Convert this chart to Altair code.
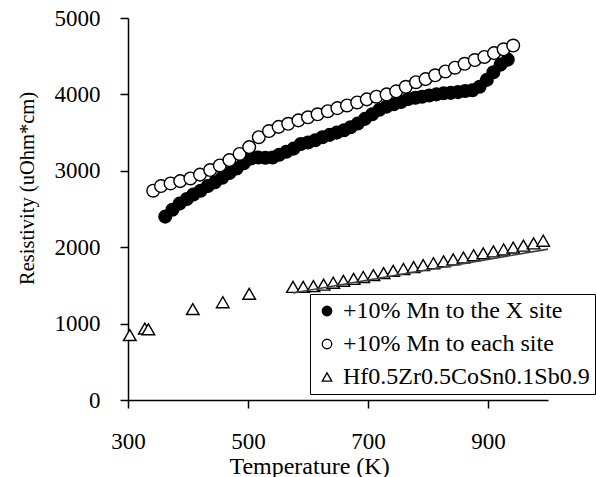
import altair as alt
import pandas as pd

# +10% Mn to the X site (filled circles)
T_x = [362, 374, 386, 398, 409, 421, 433, 445, 457, 469, 481, 493, 505, 517, 529, 541, 552, 564,
       576, 588, 600, 612, 624, 636, 648, 660, 671, 683, 695, 707, 719, 731, 743, 755, 767, 779,
       790, 802, 814, 826, 838, 850, 862, 874, 886, 898, 909, 921, 933]
R_x = [2400, 2490, 2570, 2630, 2690, 2740, 2800, 2850, 2910, 2970, 3030, 3100, 3160, 3175, 3170,
       3175, 3210, 3250, 3290, 3350, 3370, 3400, 3440, 3470, 3500, 3530, 3570, 3620, 3680, 3740,
       3800, 3840, 3870, 3900, 3940, 3955, 3970, 3985, 4000, 4015, 4020, 4030, 4045, 4055, 4100,
       4190, 4290, 4390, 4455]

# +10% Mn to each site (open circles)
T_each = [342, 355, 371, 387, 404, 420, 437, 453, 469, 486, 502, 518, 535, 551, 567, 584, 600,
          616, 633, 649, 665, 682, 698, 714, 731, 747, 763, 780, 796, 812, 829, 845, 861, 878,
          894, 910, 926, 942]
R_each = [2740, 2800, 2835, 2865, 2900, 2950, 3010, 3070, 3140, 3220, 3310, 3440, 3520, 3575,
          3615, 3660, 3700, 3740, 3780, 3820, 3855, 3895, 3935, 3970, 4000, 4040, 4100, 4160,
          4200, 4250, 4300, 4350, 4400, 4450, 4490, 4540, 4590, 4640]

# Hf0.5Zr0.5CoSn0.1Sb0.9 (open triangles)
T_base = [303, 328, 334, 408, 458, 502, 575, 592, 609, 626, 642, 659, 676, 692, 709, 726, 742,
          759, 776, 792, 809, 826, 842, 859, 876, 892, 909, 926, 942, 959, 976, 992]
R_base = [850, 935, 925, 1190, 1280, 1390, 1480, 1480, 1490, 1510, 1535, 1560, 1585, 1610, 1635,
          1660, 1690, 1715, 1740, 1765, 1790, 1815, 1840, 1865, 1895, 1920, 1945, 1970, 1995,
          2020, 2050, 2085]

# linear trendline under the triangles
trend_T = [575, 1000]
trend_R = [1400, 1975]

names = ["+10% Mn to the X site", "+10% Mn to each site", "Hf0.5Zr0.5CoSn0.1Sb0.9"]
x_ticks = [300, 500, 700, 900]
y_ticks = [0, 500, 1000, 1500, 2000, 2500, 3000, 3500, 4000, 4500, 5000]

df = pd.concat([
    pd.DataFrame({"T": T_x, "R": R_x, "series": names[0]}),
    pd.DataFrame({"T": T_each, "R": R_each, "series": names[1]}),
    pd.DataFrame({"T": T_base, "R": R_base, "series": names[2]}),
], ignore_index=True)
trend_df = pd.DataFrame({"T": trend_T, "R": trend_R})

FONT = "Liberation Serif"
FS = 23

x_enc = alt.X("T:Q", scale=alt.Scale(domain=[300, 1000], nice=False, zero=False),
              axis=alt.Axis(values=x_ticks, title="Temperature (K)", grid=False, format="d",
                            labelFlush=False, labelOverlap=False, titleFontSize=24,
                            tickSize=8, labelPadding=22, titleX=181, titleY=73,
                            titleBaseline="alphabetic"))
y_enc = alt.Y("R:Q", scale=alt.Scale(domain=[0, 5000], nice=False),
              axis=alt.Axis(values=y_ticks, title="Resistivity (uOhm*cm)", grid=False, format="d",
                            labelFlush=False, labelOverlap=False, titleFontSize=20.5,
                            tickSize=8, labelPadding=20, titleX=-95, titleY=170,
                            titleBaseline="alphabetic", titleAngle=270))

trend = alt.Chart(trend_df).mark_line(color="#404040", strokeWidth=1.6).encode(
    x=alt.X("T:Q"), y=alt.Y("R:Q"))

leg = alt.Legend(title=None)
points = alt.Chart(df).mark_point(filled=True, strokeWidth=1.4, opacity=1, size=160).encode(
    x=x_enc,
    y=y_enc,
    shape=alt.Shape("series:N", scale=alt.Scale(domain=names, range=["circle", "circle", "triangle-up"]),
                    legend=leg),
    fill=alt.Fill("series:N", scale=alt.Scale(domain=names, range=["black", "white", "white"]),
                  legend=leg),
    stroke=alt.Stroke("series:N", scale=alt.Scale(domain=names, range=["black", "black", "black"]),
                      legend=leg),
)

chart = alt.layer(points, trend).properties(
    width=420, height=382,
    autosize=alt.AutoSizeParams(type="none"),
    padding={"left": 128, "top": 18, "right": 48, "bottom": 77},
    background="white",
).configure_view(stroke=None).configure_axis(
    labelFont=FONT, labelFontSize=FS, labelColor="black",
    titleFont=FONT, titleFontSize=FS, titleColor="black", titleFontWeight="normal",
    domainColor="black", domainWidth=1.5, tickColor="black", tickWidth=1.5,
).configure_legend(
    orient="none", legendX=182, legendY=276,
    strokeColor="black", fillColor="white", padding=5,
    labelFont=FONT, labelFontSize=24, labelColor="black", labelLimit=500, labelOffset=4,
    symbolSize=90, symbolStrokeWidth=1.3, rowPadding=9,
)

chart.save("out.html", embed_options={"renderer": "svg", "actions": False})
